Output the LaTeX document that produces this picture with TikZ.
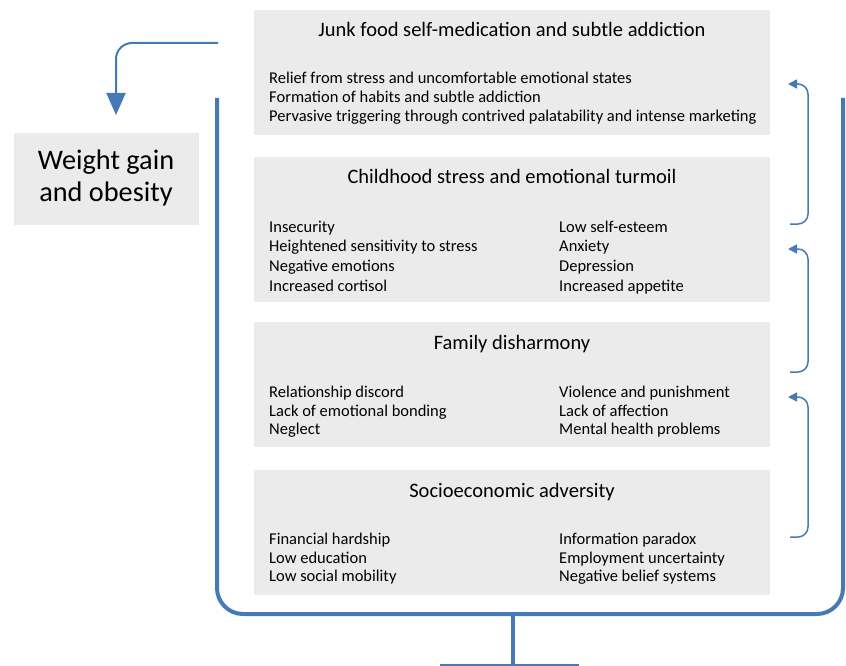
\documentclass[tikz,border=0pt]{standalone}
\usepackage{fontspec}
\setmainfont{Carlito}
\usetikzlibrary{arrows.meta}
\definecolor{flowblue}{RGB}{70,122,182}
\definecolor{panelgray}{RGB}{235,235,235}
\tikzset{
  panel/.style={fill=panelgray, draw=none, anchor=north west, inner sep=0pt},
  paneltitle/.style={anchor=base, inner sep=0pt, font=\fontsize{20.5}{24}\selectfont},
  item/.style={anchor=base west, inner sep=0pt, font=\fontsize{16.5}{19}\selectfont},
  bigtext/.style={anchor=base, inner sep=0pt, font=\fontsize{28.3}{33}\selectfont},
  frame/.style={draw=flowblue, line width=4pt, rounded corners=26pt},
  loop/.style={draw=flowblue, line width=1.5pt, rounded corners=10pt,
    -{Triangle[width=9pt,length=9pt]}},
  feed/.style={draw=flowblue, line width=2pt, rounded corners=16pt,
    -{Triangle[width=19pt,length=22pt]}}
}
\begin{document}
\begin{tikzpicture}[x=1pt, y=-1pt]
\useasboundingbox (0,0) rectangle (846,666);
\clip (0,0) rectangle (846,666);

% panels
\node[panel, minimum width=516pt, minimum height=125pt] (p1) at (254,10) {};
\node[panel, minimum width=516pt, minimum height=145pt] (p2) at (254,157) {};
\node[panel, minimum width=516pt, minimum height=125pt] (p3) at (254,322) {};
\node[panel, minimum width=516pt, minimum height=125pt] (p4) at (254,470) {};
\node[panel, minimum width=185pt, minimum height=92pt] (wg) at (14,133) {};

% panel 1
\node[paneltitle] (t1) at (512,37) {Junk food self-medication and subtle addiction};
\node[item] (a1) at (269,84) {Relief from stress and uncomfortable emotional states};
\node[item] (a2) at (269,103) {Formation of habits and subtle addiction};
\node[item] (a3) at (269,122) {Pervasive triggering through contrived palatability and intense marketing};

% panel 2
\node[paneltitle] (t2) at (512,183) {Childhood stress and emotional turmoil};
\node[item] (b1) at (269,232) {Insecurity};
\node[item] (b2) at (269,251) {Heightened sensitivity to stress};
\node[item] (b3) at (269,271) {Negative emotions};
\node[item] (b4) at (269,291) {Increased cortisol};
\node[item] (b5) at (559,232) {Low self-esteem};
\node[item] (b6) at (559,251) {Anxiety};
\node[item] (b7) at (559,271) {Depression};
\node[item] (b8) at (559,291) {Increased appetite};

% panel 3
\node[paneltitle] (t3) at (512,349) {Family disharmony};
\node[item] (c1) at (269,397) {Relationship discord};
\node[item] (c2) at (269,416) {Lack of emotional bonding};
\node[item] (c3) at (269,434) {Neglect};
\node[item] (c4) at (559,397) {Violence and punishment};
\node[item] (c5) at (559,416) {Lack of affection};
\node[item] (c6) at (559,434) {Mental health problems};

% panel 4
\node[paneltitle] (t4) at (512,497) {Socioeconomic adversity};
\node[item] (d1) at (269,544) {Financial hardship};
\node[item] (d2) at (269,563) {Low education};
\node[item] (d3) at (269,581) {Low social mobility};
\node[item] (d4) at (559,544) {Information paradox};
\node[item] (d5) at (559,563) {Employment uncertainty};
\node[item] (d6) at (559,581) {Negative belief systems};

% outcome
\node[bigtext] (w1) at (106,169) {Weight gain};
\node[bigtext] (w2) at (106,201) {and obesity};

% enclosing frame with its stem
\coordinate (fl) at (217,98);
\coordinate (fr) at (843,98);
\coordinate (stemtop) at (513,614);
\coordinate (stembot) at (513,666);
\coordinate (baseL) at (440,666);
\coordinate (baseR) at (579,666);
\draw[frame] (fl) -- (217,614) -- (843,614) -- (fr);
\draw[draw=flowblue, line width=4pt] (stemtop) -- (stembot);
\draw[draw=flowblue, line width=4pt] (baseL) -- (baseR);

% feedback from the top panel to the outcome
\coordinate (fs) at (218,43);
\coordinate (fe) at (116,115);
\draw[feed] (fs) -- (116,43) -- (fe);

% upward steps between panels
\coordinate (s1) at (790,224);
\coordinate (e1) at (788,84);
\coordinate (s2) at (790,372);
\coordinate (e2) at (788,249);
\coordinate (s3) at (790,537);
\coordinate (e3) at (788,397);
\draw[loop] (s1) -- (808,224) -- (808,84) -- (e1);
\draw[loop] (s2) -- (808,372) -- (808,249) -- (e2);
\draw[loop] (s3) -- (808,537) -- (808,397) -- (e3);
\end{tikzpicture}
\end{document}
